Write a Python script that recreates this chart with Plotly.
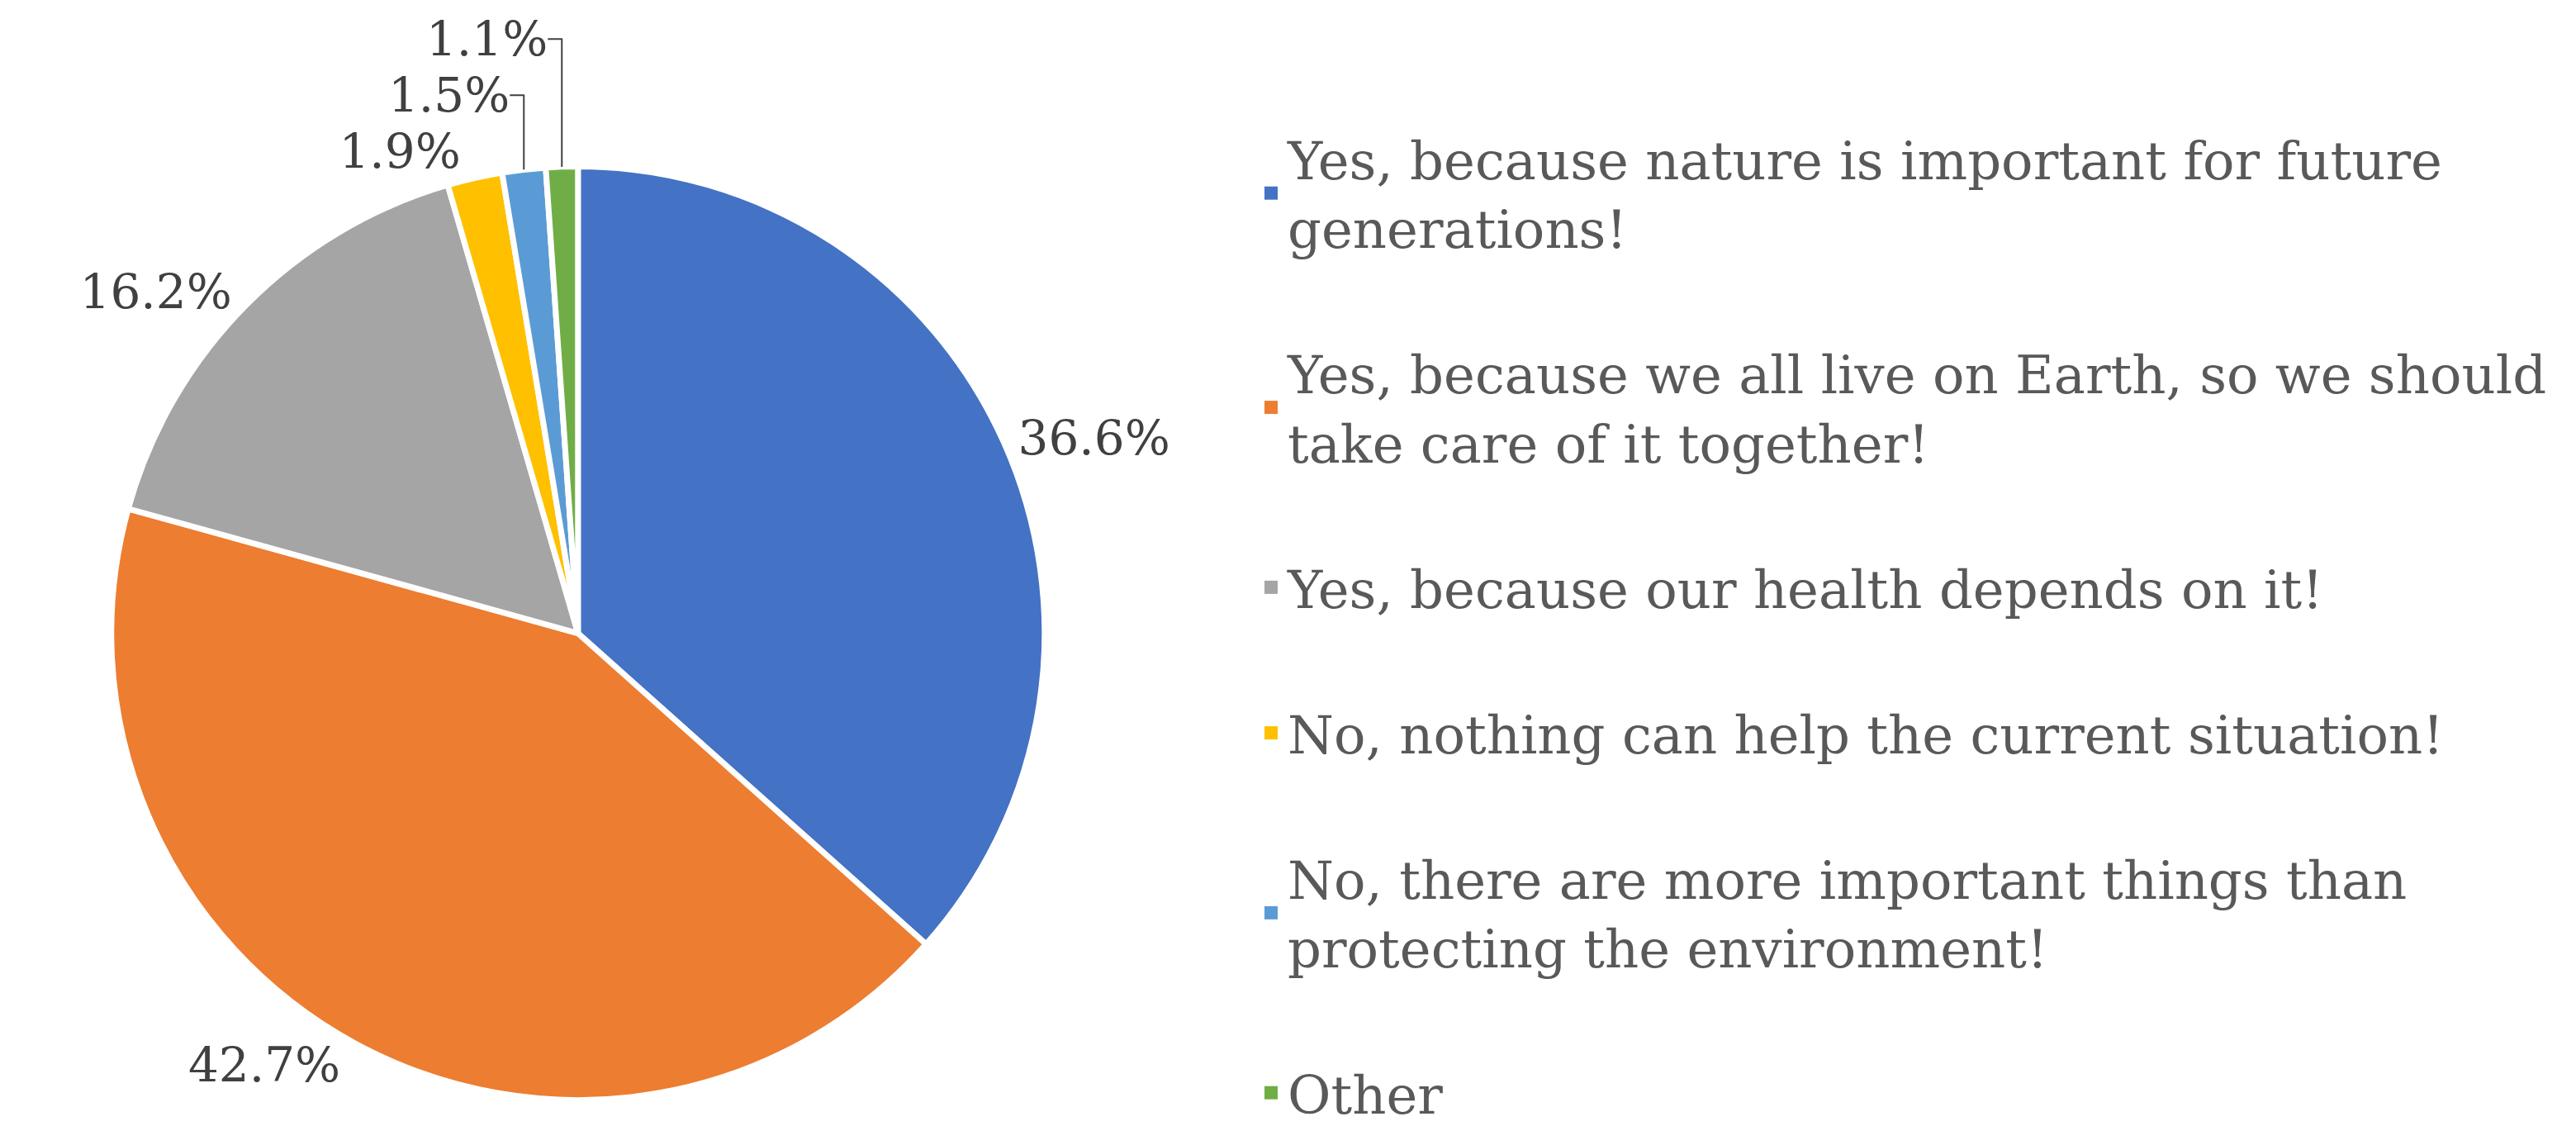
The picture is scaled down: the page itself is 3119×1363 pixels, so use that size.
import plotly.graph_objects as go

labels = [
    "Yes, because nature is important for future<br>generations!",
    "Yes, because we all live on Earth, so we should<br>take care of it together!",
    "Yes, because our health depends on it!",
    "No, nothing can help the current situation!",
    "No, there are more important things than<br>protecting the environment!",
    "Other",
]
values = [36.6, 42.7, 16.2, 1.9, 1.5, 1.1]
colors = ["#4472C4", "#ED7D31", "#A5A5A5", "#FFC000", "#5B9BD5", "#70AD47"]

fig = go.Figure(go.Pie(
    labels=labels,
    values=values,
    sort=False,
    direction="clockwise",
    rotation=0,
    showlegend=False,
    marker=dict(colors=colors, line=dict(color="white", width=7)),
    texttemplate="%{value:.1f}%",
    textposition="outside",
    textfont=dict(size=58, color="#404040"),
    domain=dict(x=[0.0, 0.4], y=[0.03, 0.89]),
))

# legend entries as square markers, one group each so gaps can be set
for i, (name, c) in enumerate(zip(labels, colors)):
    fig.add_trace(go.Scatter(
        x=[None], y=[None], mode="markers", name=name,
        marker=dict(symbol="square", size=26, color=c),
        legendgroup=str(i),
    ))

fig.update_layout(
    width=3119, height=1363,
    margin=dict(l=0, r=0, t=0, b=0),
    paper_bgcolor="white",
    plot_bgcolor="white",
    xaxis=dict(visible=False),
    yaxis=dict(visible=False),
    font=dict(family="DejaVu Serif", color="#595959"),
    legend=dict(
        x=0.47, y=0.93, xanchor="left", yanchor="top",
        font=dict(size=64, color="#595959"),
        tracegroupgap=90,
        itemwidth=30,
    ),
)

fig.write_html("out.html")
